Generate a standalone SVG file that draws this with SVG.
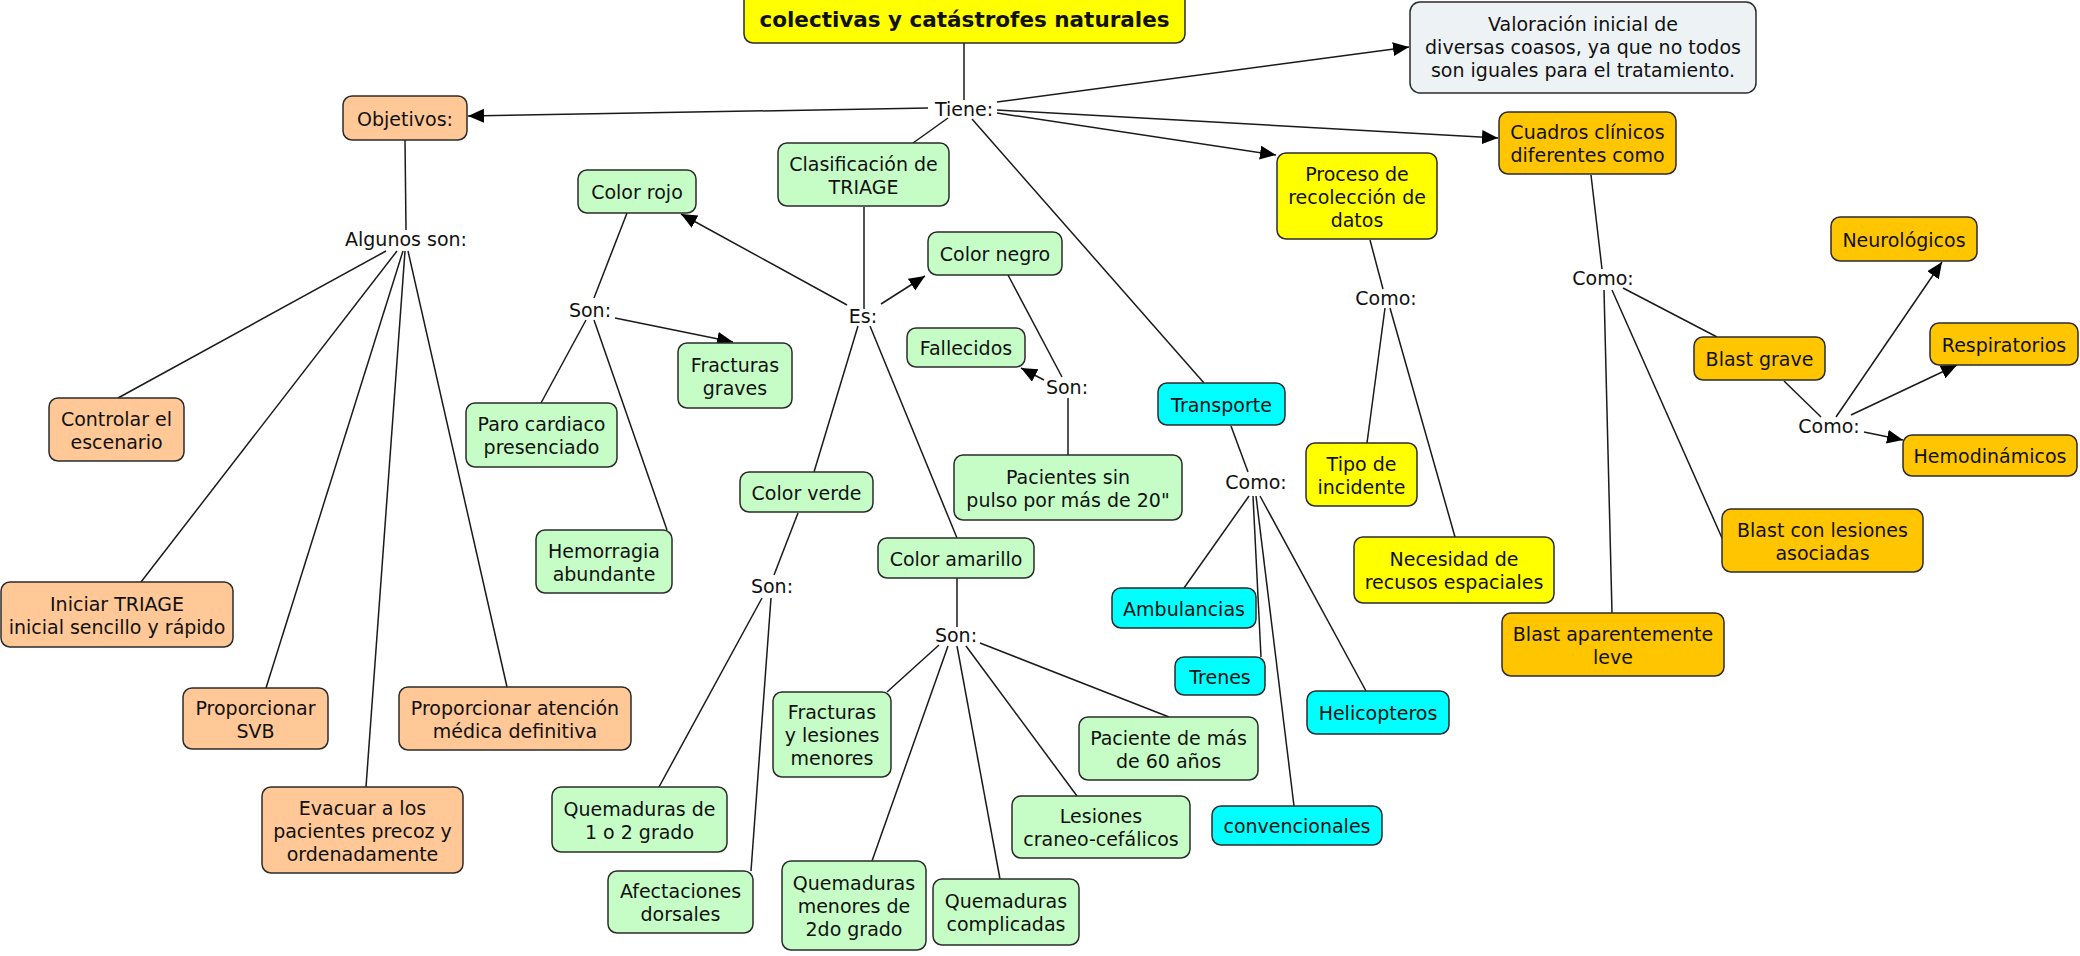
<svg xmlns="http://www.w3.org/2000/svg" width="2080" height="956" viewBox="0 0 2080 956">
<style>
.bg{fill:#ffffff}
.n rect{stroke:#2b2b2b;stroke-width:1.5}
.or rect{fill:#ffc896}
.gr rect{fill:#c6fdc6}
.ye rect{fill:#ffff00}
.cy rect{fill:#00ffff}
.go rect{fill:#ffc600}
.bl rect{fill:#edf2f5}
text{font-family:"DejaVu Sans","Liberation Sans",sans-serif;font-size:19px;fill:#111;text-anchor:middle}
.title text{font-weight:bold;font-size:21.5px}
#connectors line{stroke:#1a1a1a;stroke-width:1.5;fill:none}
#connectors line.a{marker-end:url(#arr)}
</style>
<defs>
<marker id="arr" markerUnits="userSpaceOnUse" markerWidth="17" markerHeight="15" refX="16" refY="7" orient="auto">
<path d="M0,0 L16,7 L0,14 z" fill="#000"/>
</marker>
</defs>
<rect class="bg" x="0" y="0" width="2080" height="956"/>

<g id="connectors">
<line x1="964" y1="43" x2="964" y2="100"/>
<line class="a" x1="928" y1="108" x2="468" y2="116"/>
<line x1="948" y1="118" x2="913" y2="143"/>
<line x1="972" y1="119" x2="1204" y2="383"/>
<line class="a" x1="997" y1="113" x2="1276" y2="155"/>
<line class="a" x1="997" y1="110" x2="1498" y2="138"/>
<line class="a" x1="997" y1="102" x2="1409" y2="47"/>

<line x1="405" y1="140" x2="406" y2="230"/>
<line x1="386" y1="251" x2="118" y2="398"/>
<line x1="397" y1="251" x2="141" y2="582"/>
<line x1="403" y1="251" x2="266" y2="688"/>
<line x1="405" y1="251" x2="366" y2="787"/>
<line x1="408" y1="251" x2="507" y2="687"/>

<line x1="627" y1="213" x2="594" y2="298"/>
<line x1="586" y1="320" x2="541" y2="403"/>
<line x1="594" y1="320" x2="667" y2="530"/>
<line class="a" x1="615" y1="318" x2="733" y2="342"/>

<line x1="864" y1="207" x2="864" y2="309"/>
<line class="a" x1="847" y1="305" x2="681" y2="214"/>
<line class="a" x1="881" y1="304" x2="925" y2="276"/>
<line x1="858" y1="326" x2="814" y2="472"/>
<line x1="870" y1="326" x2="957" y2="538"/>

<line x1="1008" y1="275" x2="1062" y2="377"/>
<line class="a" x1="1044" y1="380" x2="1021" y2="368"/>
<line x1="1068" y1="398" x2="1068" y2="455"/>

<line x1="798" y1="513" x2="774" y2="575"/>
<line x1="762" y1="598" x2="659" y2="787"/>
<line x1="771" y1="598" x2="751" y2="871"/>

<line x1="957" y1="578" x2="957" y2="627"/>
<line x1="939" y1="645" x2="887" y2="692"/>
<line x1="948" y1="646" x2="872" y2="861"/>
<line x1="957" y1="646" x2="1000" y2="879"/>
<line x1="966" y1="646" x2="1077" y2="796"/>
<line x1="980" y1="643" x2="1169" y2="717"/>

<line x1="1231" y1="426" x2="1248" y2="472"/>
<line x1="1249" y1="496" x2="1184" y2="588"/>
<line x1="1253" y1="496" x2="1261" y2="657"/>
<line x1="1256" y1="496" x2="1294" y2="806"/>
<line x1="1260" y1="496" x2="1366" y2="691"/>

<line x1="1370" y1="240" x2="1383" y2="289"/>
<line x1="1385" y1="308" x2="1367" y2="443"/>
<line x1="1390" y1="308" x2="1455" y2="537"/>

<line x1="1591" y1="175" x2="1602" y2="269"/>
<line x1="1623" y1="288" x2="1717" y2="337"/>
<line x1="1612" y1="290" x2="1722" y2="538"/>
<line x1="1604" y1="290" x2="1612" y2="613"/>

<line x1="1784" y1="381" x2="1821" y2="417"/>
<line class="a" x1="1836" y1="417" x2="1942" y2="262"/>
<line class="a" x1="1851" y1="415" x2="1957" y2="365"/>
<line class="a" x1="1864" y1="432" x2="1903" y2="440"/>
</g>

<g id="title" class="n ye title"><rect x="744" y="-20" width="441" height="63" rx="9"/><text x="964.5" y="27">colectivas y catástrofes naturales</text></g>
<g id="valoracion" class="n bl"><rect x="1410" y="2" width="346" height="91" rx="10"/><text x="1583" y="31">Valoración inicial de</text><text x="1583" y="54">diversas coasos, ya que no todos</text><text x="1583" y="77">son iguales para el tratamiento.</text></g>

<g id="lp-tiene"><text x="964" y="116">Tiene:</text></g>
<g id="lp-algunos"><text x="406" y="246">Algunos son:</text></g>
<g id="lp-son-rojo"><text x="590" y="317">Son:</text></g>
<g id="lp-es"><text x="863" y="323">Es:</text></g>
<g id="lp-son-negro"><text x="1067" y="394">Son:</text></g>
<g id="lp-son-verde"><text x="772" y="593">Son:</text></g>
<g id="lp-son-amarillo"><text x="956" y="642">Son:</text></g>
<g id="lp-como-transporte"><text x="1256" y="489">Como:</text></g>
<g id="lp-como-proceso"><text x="1386" y="305">Como:</text></g>
<g id="lp-como-cuadros"><text x="1603" y="285">Como:</text></g>
<g id="lp-como-blast"><text x="1829" y="433">Como:</text></g>

<g id="objetivos" class="n or"><rect x="343" y="96" width="124" height="44" rx="9"/><text x="405" y="125.5">Objetivos:</text></g>
<g id="controlar" class="n or"><rect x="49" y="398" width="135" height="63" rx="9"/><text x="116.5" y="425.5">Controlar el</text><text x="116.5" y="448.5">escenario</text></g>
<g id="iniciar" class="n or"><rect x="1" y="582" width="232" height="65" rx="9"/><text x="117" y="610.5">Iniciar TRIAGE</text><text x="117" y="633.5">inicial sencillo y rápido</text></g>
<g id="svb" class="n or"><rect x="183" y="688" width="145" height="61" rx="9"/><text x="255.5" y="714.5">Proporcionar</text><text x="255.5" y="737.5">SVB</text></g>
<g id="atencion" class="n or"><rect x="399" y="687" width="232" height="63" rx="9"/><text x="515" y="714.5">Proporcionar atención</text><text x="515" y="737.5">médica definitiva</text></g>
<g id="evacuar" class="n or"><rect x="262" y="787" width="201" height="86" rx="9"/><text x="362.5" y="814.5">Evacuar a los</text><text x="362.5" y="837.5">pacientes precoz y</text><text x="362.5" y="860.5">ordenadamente</text></g>

<g id="color-rojo" class="n gr"><rect x="578" y="170" width="118" height="43" rx="9"/><text x="637" y="199">Color rojo</text></g>
<g id="clasificacion" class="n gr"><rect x="778" y="143" width="171" height="63" rx="9"/><text x="863.5" y="170.5">Clasificación de</text><text x="863.5" y="193.5">TRIAGE</text></g>
<g id="color-negro" class="n gr"><rect x="928" y="232" width="134" height="43" rx="9"/><text x="995" y="261">Color negro</text></g>
<g id="fallecidos" class="n gr"><rect x="907" y="328" width="118" height="39" rx="9"/><text x="966" y="355">Fallecidos</text></g>
<g id="fracturas-graves" class="n gr"><rect x="678" y="343" width="114" height="65" rx="9"/><text x="735" y="371.5">Fracturas</text><text x="735" y="394.5">graves</text></g>
<g id="paro" class="n gr"><rect x="466" y="403" width="151" height="64" rx="9"/><text x="541.5" y="431">Paro cardiaco</text><text x="541.5" y="454">presenciado</text></g>
<g id="hemorragia" class="n gr"><rect x="536" y="530" width="136" height="63" rx="9"/><text x="604" y="557.5">Hemorragia</text><text x="604" y="580.5">abundante</text></g>
<g id="pacientes-sin-pulso" class="n gr"><rect x="954" y="455" width="228" height="65" rx="9"/><text x="1068" y="483.5">Pacientes sin</text><text x="1068" y="506.5">pulso por más de 20"</text></g>
<g id="color-verde" class="n gr"><rect x="740" y="472" width="133" height="40" rx="9"/><text x="806.5" y="499.5">Color verde</text></g>
<g id="color-amarillo" class="n gr"><rect x="878" y="538" width="156" height="40" rx="9"/><text x="956" y="565.5">Color amarillo</text></g>
<g id="quemaduras-12" class="n gr"><rect x="552" y="787" width="175" height="65" rx="9"/><text x="639.5" y="815.5">Quemaduras de</text><text x="639.5" y="838.5">1 o 2 grado</text></g>
<g id="afectaciones" class="n gr"><rect x="608" y="871" width="145" height="62" rx="9"/><text x="680.5" y="898">Afectaciones</text><text x="680.5" y="921">dorsales</text></g>
<g id="fracturas-menores" class="n gr"><rect x="773" y="692" width="118" height="85" rx="9"/><text x="832" y="719">Fracturas</text><text x="832" y="742">y lesiones</text><text x="832" y="765">menores</text></g>
<g id="quemaduras-menores" class="n gr"><rect x="782" y="861" width="144" height="89" rx="9"/><text x="854" y="890">Quemaduras</text><text x="854" y="913">menores de</text><text x="854" y="936">2do grado</text></g>
<g id="quemaduras-complicadas" class="n gr"><rect x="933" y="879" width="146" height="66" rx="9"/><text x="1006" y="908">Quemaduras</text><text x="1006" y="931">complicadas</text></g>
<g id="lesiones-craneo" class="n gr"><rect x="1012" y="796" width="178" height="62" rx="9"/><text x="1101" y="823">Lesiones</text><text x="1101" y="846">craneo-cefálicos</text></g>
<g id="paciente-60" class="n gr"><rect x="1079" y="717" width="179" height="63" rx="9"/><text x="1168.5" y="744.5">Paciente de más</text><text x="1168.5" y="767.5">de 60 años</text></g>

<g id="transporte" class="n cy"><rect x="1158" y="383" width="127" height="42" rx="9"/><text x="1221.5" y="411.5">Transporte</text></g>
<g id="ambulancias" class="n cy"><rect x="1112" y="588" width="144" height="40" rx="9"/><text x="1184" y="615.5">Ambulancias</text></g>
<g id="trenes" class="n cy"><rect x="1175" y="657" width="90" height="38" rx="9"/><text x="1220" y="683.5">Trenes</text></g>
<g id="helicopteros" class="n cy"><rect x="1307" y="691" width="142" height="43" rx="9"/><text x="1378" y="720">Helicopteros</text></g>
<g id="convencionales" class="n cy"><rect x="1212" y="806" width="170" height="39" rx="9"/><text x="1297" y="833">convencionales</text></g>

<g id="proceso" class="n ye"><rect x="1277" y="153" width="160" height="86" rx="9"/><text x="1357" y="180.5">Proceso de</text><text x="1357" y="203.5">recolección de</text><text x="1357" y="226.5">datos</text></g>
<g id="tipo-incidente" class="n ye"><rect x="1306" y="443" width="111" height="63" rx="9"/><text x="1361.5" y="470.5">Tipo de</text><text x="1361.5" y="493.5">incidente</text></g>
<g id="necesidad" class="n ye"><rect x="1354" y="537" width="200" height="66" rx="9"/><text x="1454" y="566">Necesidad de</text><text x="1454" y="589">recusos espaciales</text></g>

<g id="cuadros" class="n go"><rect x="1499" y="112" width="177" height="62" rx="9"/><text x="1587.5" y="139">Cuadros clínicos</text><text x="1587.5" y="162">diferentes como</text></g>
<g id="neurologicos" class="n go"><rect x="1831" y="217" width="146" height="44" rx="9"/><text x="1904" y="246.5">Neurológicos</text></g>
<g id="blast-grave" class="n go"><rect x="1694" y="337" width="131" height="43" rx="9"/><text x="1759.5" y="366">Blast grave</text></g>
<g id="respiratorios" class="n go"><rect x="1930" y="323" width="148" height="42" rx="9"/><text x="2004" y="351.5">Respiratorios</text></g>
<g id="hemodinamicos" class="n go"><rect x="1903" y="435" width="174" height="41" rx="9"/><text x="1990" y="463">Hemodinámicos</text></g>
<g id="blast-lesiones" class="n go"><rect x="1722" y="509" width="201" height="63" rx="9"/><text x="1822.5" y="536.5">Blast con lesiones</text><text x="1822.5" y="559.5">asociadas</text></g>
<g id="blast-leve" class="n go"><rect x="1502" y="613" width="222" height="63" rx="9"/><text x="1613" y="640.5">Blast aparentemente</text><text x="1613" y="663.5">leve</text></g>
</svg>
